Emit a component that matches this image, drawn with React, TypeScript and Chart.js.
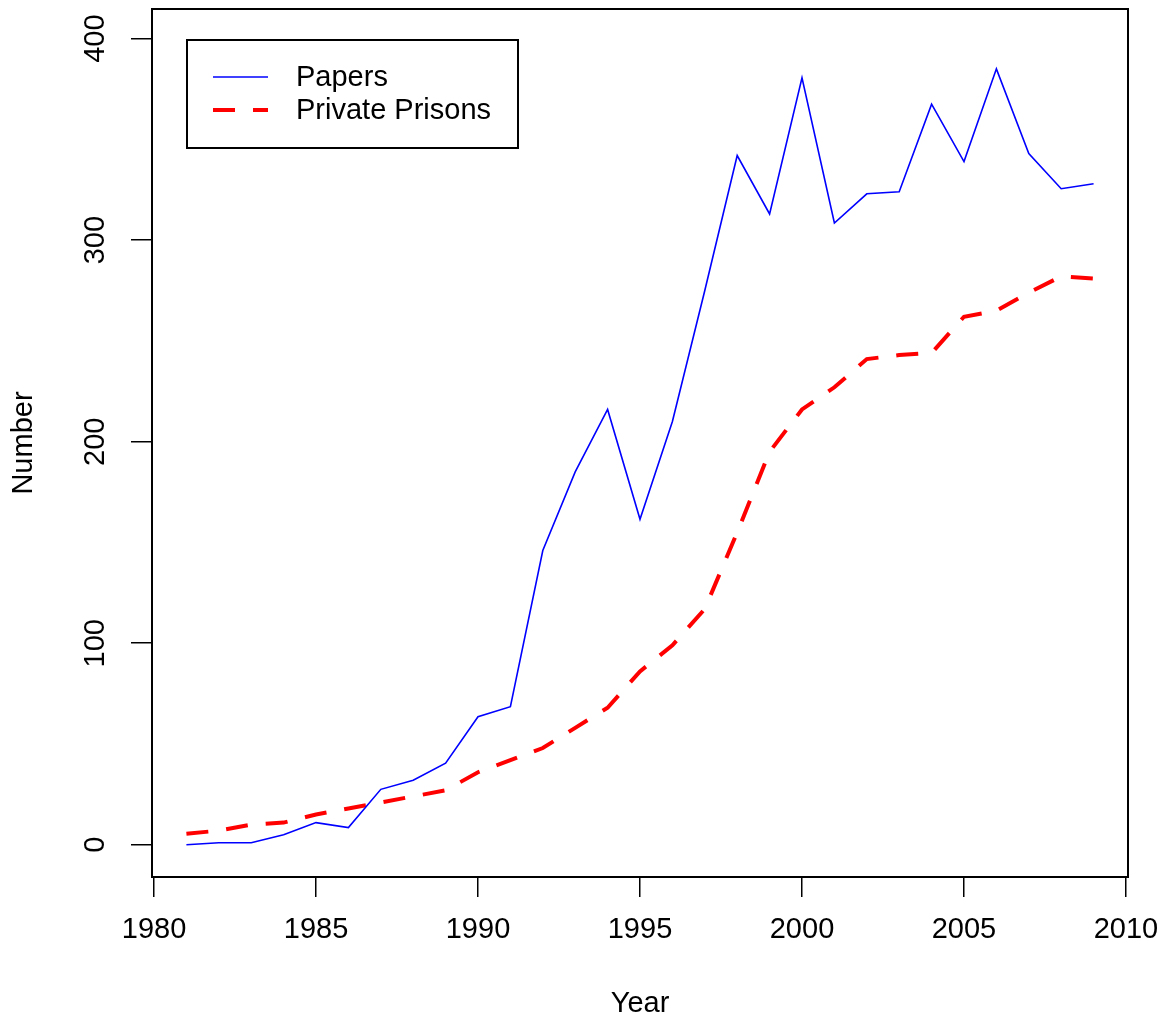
import { useEffect, useRef } from "react";
import { Chart, registerables } from "chart.js";

Chart.register(...registerables);

// ---- data ----
const years = [
  1981, 1982, 1983, 1984, 1985, 1986, 1987, 1988, 1989, 1990,
  1991, 1992, 1993, 1994, 1995, 1996, 1997, 1998, 1999, 2000,
  2001, 2002, 2003, 2004, 2005, 2006, 2007, 2008, 2009,
];
const papers = [
  0, 1, 1, 5, 11, 8.5, 27.5, 32, 40.5, 63.5,
  68.5, 146, 185, 216, 161.5, 210, 275, 342, 313, 380.5,
  308.5, 323, 324, 367.5, 339, 385, 343, 325.5, 328,
];
const privatePrisons = [
  5.5, 7, 10, 11, 15, 18, 21, 24, 27, 36,
  42, 48, 58, 68, 86, 99, 117, 155, 195, 216,
  227, 241, 243, 244, 262, 265, 274, 282, 281,
];
const seriesLabels = ["Papers", "Private Prisons"];
const xTicks = [1980, 1985, 1990, 1995, 2000, 2005, 2010];
const yTicks = [0, 100, 200, 300, 400];
const xTitle = "Year";
const yTitle = "Number";

const FONT = "'Liberation Sans', Arial, Helvetica, sans-serif";
const FONT_SIZE = 29;

const overlay = {
  id: "overlay",
  afterDraw(chart: any) {
    const { ctx, chartArea: a } = chart;
    ctx.save();
    // plot box
    ctx.strokeStyle = "#000";
    ctx.lineWidth = 2;
    ctx.setLineDash([]);
    ctx.strokeRect(a.left, a.top, a.right - a.left, a.bottom - a.top);

    // axis titles
    ctx.fillStyle = "#000";
    ctx.font = `${FONT_SIZE}px ${FONT}`;
    ctx.textAlign = "center";
    ctx.textBaseline = "middle";
    ctx.fillText(xTitle, (a.left + a.right) / 2, 1004);
    ctx.save();
    ctx.translate(24, (a.top + a.bottom) / 2);
    ctx.rotate(-Math.PI / 2);
    ctx.fillText(yTitle, 0, 0);
    ctx.restore();

    // legend
    const lx = a.left + 35;
    const ly = a.top + 31;
    ctx.lineWidth = 2;
    ctx.strokeStyle = "#000";
    ctx.strokeRect(lx, ly, 331, 108);
    chart.data.datasets.forEach((ds: any, i: number) => {
      const y = ly + 37 + i * 33;
      ctx.save();
      ctx.strokeStyle = ds.borderColor;
      ctx.lineWidth = ds.borderWidth;
      ctx.setLineDash(ds.borderDash || []);
      ctx.beginPath();
      ctx.moveTo(lx + 26, y);
      ctx.lineTo(lx + 81, y);
      ctx.stroke();
      ctx.restore();
      ctx.fillStyle = "#000";
      ctx.textAlign = "left";
      ctx.textBaseline = "middle";
      ctx.font = `${FONT_SIZE}px ${FONT}`;
      ctx.fillText(ds.label, lx + 109, y + 1);
    });
    ctx.restore();
  },
};

export default function App() {
  const ref = useRef<HTMLCanvasElement | null>(null);

  useEffect(() => {
    if (!ref.current) return;
    const tickFont = { family: FONT, size: FONT_SIZE };
    const chart = new Chart(ref.current, {
      type: "line",
      data: {
        datasets: [
          {
            label: seriesLabels[0],
            data: years.map((x, i) => ({ x, y: papers[i] })),
            borderColor: "#0000FF",
            borderWidth: 1.6,
            pointRadius: 0,
            fill: false,
            tension: 0,
          },
          {
            label: seriesLabels[1],
            data: years.map((x, i) => ({ x, y: privatePrisons[i] })),
            borderColor: "#FF0000",
            borderWidth: 4,
            borderDash: [22, 18],
            pointRadius: 0,
            fill: false,
            tension: 0,
          },
        ],
      },
      options: {
        responsive: false,
        animation: false,
        layout: { padding: { left: 0, top: 9, right: 37, bottom: 0 } },
        plugins: {
          legend: { display: false },
          tooltip: { enabled: false },
        },
        scales: {
          x: {
            type: "linear",
            min: 1979.938,
            max: 2010.062,
            afterBuildTicks: (s: any) => {
              s.ticks = xTicks.map((v) => ({ value: v }));
            },
            afterFit: (s: any) => {
              s.height = 148;
              s.paddingLeft = 0;
              s.paddingRight = 0;
            },
            border: { display: false },
            grid: {
              display: true,
              drawOnChartArea: false,
              drawTicks: true,
              tickLength: 20,
              color: "#000",
              lineWidth: 1.5,
            },
            ticks: {
              color: "#000",
              font: tickFont,
              padding: 16,
              minRotation: 0,
              maxRotation: 0,
              autoSkip: false,
              callback: (v: any) => String(v),
            },
          },
          y: {
            type: "linear",
            min: -16,
            max: 414.7,
            afterBuildTicks: (s: any) => {
              s.ticks = yTicks.map((v) => ({ value: v }));
            },
            afterFit: (s: any) => {
              s.width = 152;
              s.paddingTop = 0;
              s.paddingBottom = 0;
            },
            border: { display: false },
            grid: {
              display: true,
              drawOnChartArea: false,
              drawTicks: true,
              tickLength: 21,
              color: "#000",
              lineWidth: 1.5,
            },
            ticks: {
              color: "#000",
              font: tickFont,
              padding: 10.8,
              minRotation: 90,
              maxRotation: 90,
              crossAlign: "center",
              autoSkip: false,
              callback: (v: any) => String(v),
            },
          },
        },
      },
      plugins: [overlay],
    } as any);
    return () => chart.destroy();
  }, []);

  return (
    <div style={{ position: "absolute", left: 0, top: 0, width: 1165, height: 1025, background: "#fff" }}>
      <canvas ref={ref} width={1165} height={1025} style={{ display: "block" }} />
    </div>
  );
}
